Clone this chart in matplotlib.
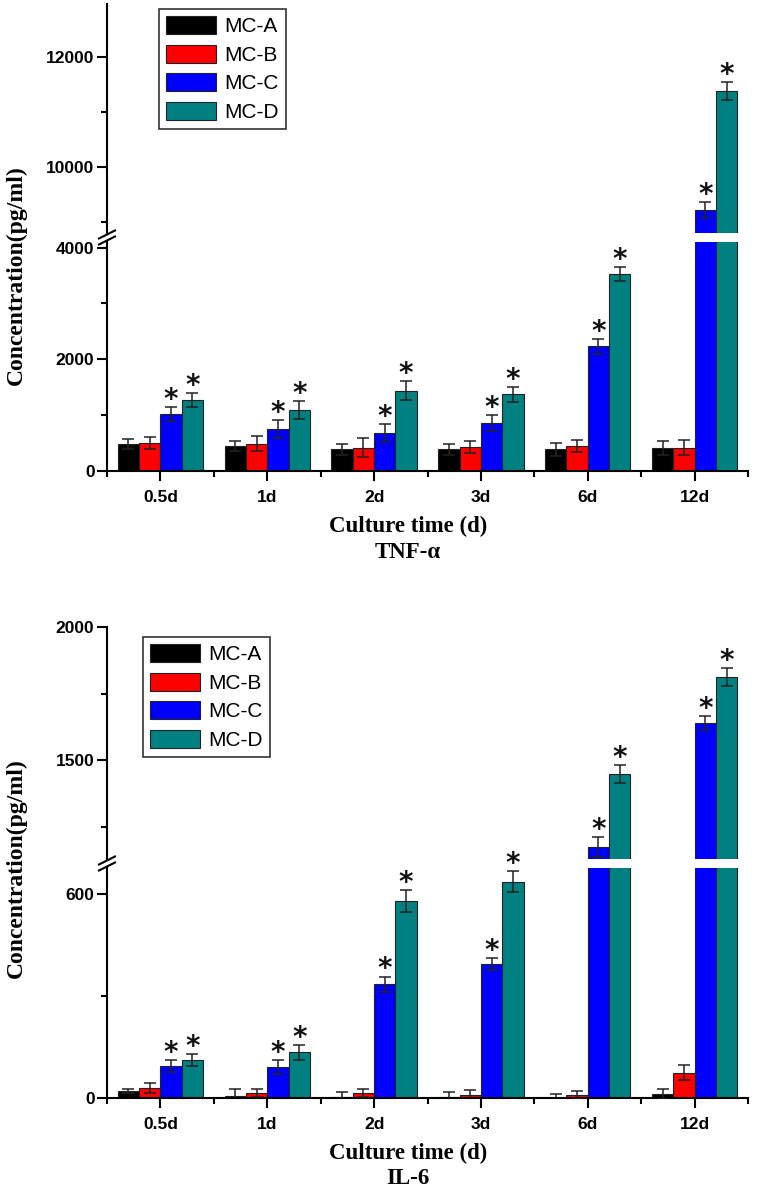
"""Two broken-axis grouped bar charts: TNF-α and IL-6 release over culture time."""

import matplotlib

matplotlib.use("Agg")
import matplotlib.pyplot as plt
from matplotlib.lines import Line2D
from matplotlib.ticker import FixedLocator
import numpy as np

groups = ["0.5d", "1d", "2d", "3d", "6d", "12d"]
series = ["MC-A", "MC-B", "MC-C", "MC-D"]
colors = ["#000000", "#ff0000", "#0000ff", "#008080"]
starred = ["MC-C", "MC-D"]

# TNF-alpha (pg/ml)
tnf_a = [480, 450, 390, 390, 390, 410]
tnf_b = [500, 490, 420, 430, 450, 420]
tnf_c = [1020, 750, 680, 860, 2230, 9220]
tnf_d = [1270, 1090, 1440, 1370, 3530, 11380]
tnf_err_a = [90, 90, 100, 100, 120, 130]
tnf_err_b = [110, 140, 170, 100, 110, 135]
tnf_err_c = [125, 160, 160, 140, 140, 145]
tnf_err_d = [125, 160, 170, 140, 125, 160]

# IL-6 (pg/ml)
il6_a = [20, 6, 3, 2, 1, 12]
il6_b = [30, 15, 15, 8, 8, 74]
il6_c = [94, 91, 335, 394, 1173, 1639]
il6_d = [112, 135, 579, 635, 1447, 1812]
il6_err_a = [6, 20, 14, 15, 11, 15]
il6_err_b = [15, 12, 12, 15, 12, 22]
il6_err_c = [18, 20, 22, 18, 37, 26]
il6_err_d = [18, 22, 32, 31, 34, 34]

W, H = 758, 1192
TICK_FONT = dict(family="Liberation Sans", weight="bold", size=12.5)
LABEL_FONT = dict(family="Liberation Serif", weight="bold", size=16.5)


def style_axis(ax, ylim, major, minor, bottom):
    ax.set_ylim(*ylim)
    ax.set_xlim(-0.5, 5.5)
    for s in ("top", "right"):
        ax.spines[s].set_visible(False)
    ax.spines["left"].set_linewidth(1.5)
    ax.yaxis.set_major_locator(FixedLocator(major))
    ax.yaxis.set_minor_locator(FixedLocator(minor))
    ax.tick_params(axis="y", which="major", direction="out", length=7, width=1.5, pad=2)
    ax.tick_params(axis="y", which="minor", direction="out", length=4, width=1.5)
    ax.set_yticklabels([str(v) for v in major], **TICK_FONT)
    if bottom:
        ax.spines["bottom"].set_linewidth(1.5)
        ax.set_xticks(range(len(groups)))
        ax.set_xticklabels(groups, **TICK_FONT)
        ax.xaxis.set_minor_locator(FixedLocator(np.arange(-0.5, 5.6, 1.0)))
        ax.tick_params(axis="x", which="major", direction="out", length=7, width=1.5, pad=7)
        ax.tick_params(axis="x", which="minor", direction="out", length=4, width=1.5)
    else:
        ax.spines["bottom"].set_visible(False)
        ax.tick_params(axis="x", which="both", bottom=False, labelbottom=False)


def broken_bars(fig, rect_hi, rect_lo, values, errors, lim_hi, lim_lo,
                ticks_hi, ticks_lo, title, legend_at, ylabel_y):
    ax_hi = fig.add_axes(rect_hi)
    ax_lo = fig.add_axes(rect_lo)
    x = np.arange(len(groups))
    width = 0.2
    for i, (name, vals, errs, col) in enumerate(zip(series, values, errors, colors)):
        xs = x + (i - 1.5) * width
        for ax in (ax_hi, ax_lo):
            ax.bar(xs, vals, width, color=col, edgecolor="#222222", linewidth=0.8,
                   label=name, zorder=2)
            ax.errorbar(xs, vals, yerr=errs, fmt="none", ecolor="#222222",
                        elinewidth=1.1, capsize=4, capthick=1.1, zorder=3)
        if name in starred:
            for xi, v, e in zip(xs, vals, errs):
                ax = ax_hi if v + e > lim_lo[1] else ax_lo
                ax.annotate("*", (xi, v + e), xytext=(0, -5), textcoords="offset points",
                            ha="center", va="bottom", fontsize=20, fontweight="bold",
                            family="DejaVu Sans", color="#111111", clip_on=False)
    style_axis(ax_hi, lim_hi, *ticks_hi, bottom=False)
    style_axis(ax_lo, lim_lo, *ticks_lo, bottom=True)

    leg = ax_hi.legend(loc="upper left", bbox_to_anchor=legend_at, frameon=True,
                       fancybox=False, edgecolor="#333333", framealpha=1,
                       prop=dict(family="Liberation Sans", size=15),
                       handlelength=2.4, handleheight=0.95, labelspacing=0.4,
                       borderpad=0.35, handletextpad=0.4, borderaxespad=0)
    leg.get_frame().set_linewidth(1.2)

    # break marks on the left spine
    x0 = rect_lo[0]
    ygap = (rect_lo[1] + rect_lo[3] + rect_hi[1]) / 2
    dx, dy = 8 / W, 4 / H
    for off in (-3 / H, 3 / H):
        fig.add_artist(Line2D([x0 - dx, x0 + dx], [ygap + off - dy, ygap + off + dy],
                              color="black", lw=1.5, transform=fig.transFigure))

    xc = 408 / W
    fig.text(xc, rect_lo[1] - 55 / H, "Culture time (d)", ha="center", va="center",
             **LABEL_FONT)
    fig.text(xc, rect_lo[1] - 81 / H, title, ha="center", va="center", **LABEL_FONT)
    fig.text(16 / W, ylabel_y, "Concentration(pg/ml)", rotation=90,
             ha="center", va="center", **dict(LABEL_FONT, size=17))
    return ax_hi, ax_lo


fig = plt.figure(figsize=(7.58, 11.92), dpi=100)
left, width = 107 / W, 641 / W

broken_bars(
    fig,
    [left, 1 - 233 / H, width, 229 / H],
    [left, 1 - 471 / H, width, 229 / H],
    [tnf_a, tnf_b, tnf_c, tnf_d],
    [tnf_err_a, tnf_err_b, tnf_err_c, tnf_err_d],
    (8800, 12960), (0, 4100),
    ([10000, 12000], [9000, 11000]),
    ([0, 2000, 4000], [1000, 3000]),
    "TNF-α", (0.081, 0.978), 1 - 275 / H,
)

broken_bars(
    fig,
    [left, 1 - 859 / H, width, 232 / H],
    [left, 1 - 1098 / H, width, 230 / H],
    [il6_a, il6_b, il6_c, il6_d],
    [il6_err_a, il6_err_b, il6_err_c, il6_err_d],
    (1128, 2000), (0, 676),
    ([1500, 2000], [1250, 1750]),
    ([0, 600], [300]),
    "IL-6", (0.056, 0.957), 1 - 868 / H,
)

fig.savefig("out.png", dpi=100)
